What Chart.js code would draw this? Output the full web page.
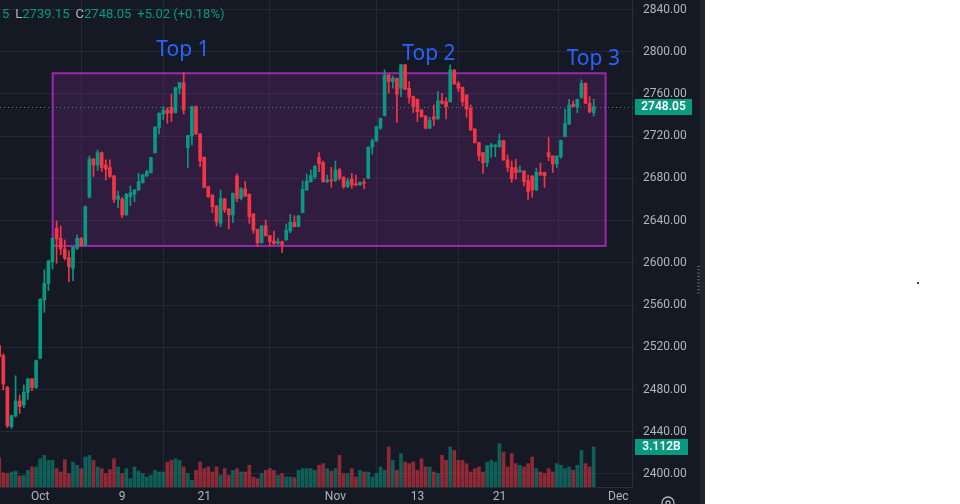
<!DOCTYPE html>
<html>
<head>
<meta charset="utf-8">
<script src="https://cdn.jsdelivr.net/npm/chart.js@4.4.1/dist/chart.umd.min.js"></script>
<style>
  html, body { margin:0; padding:0; background:#fff; }
  #wrap { position:absolute; left:0; top:0; width:705px; height:504px; background:#151924; }
  #dot { position:absolute; left:917px; top:282px; width:2px; height:2px; background:#444; }
</style>
</head>
<body>
<div id="wrap"><canvas id="chart"></canvas></div>
<div id="dot"></div>
<script>
// OHLC per bar (index 0 = leftmost, partly cut off)
const OPEN = [2521.6,2512.1,2482.1,2444.8,2454.9,2469.1,2465.4,2477.3,2490.0,2481.8,
  2509.6,2564.8,2580.6,2601.1,2632.7,2623.2,2613.1,2604.9,2594.8,2613.8,
  2623.2,2616.9,2662.1,2698.4,2692.7,2704.4,2692.7,2690.2,2682.3,2660.2,
  2660.2,2645.4,2662.7,2664.9,2669.0,2676.0,2682.3,2685.5,2704.4,2728.1,
  2741.0,2744.8,2747.4,2742.3,2765.4,2770.7,2709.1,2720.2,2748.0,2722.1,
  2700.0,2672.2,2664.3,2653.9,2637.5,2660.5,2651.0,2645.4,2682.3,2661.1,
  2670.0,2664.9,2646.3,2631.8,2619.1,2635.2,2625.8,2620.7,2618.5,2620.1,
  2621.7,2630.2,2638.4,2634.3,2647.6,2669.0,2676.9,2681.7,2699.7,2694.9,
  2676.9,2678.5,2677.9,2688.0,2681.0,2672.2,2679.5,2674.7,2673.8,2676.3,
  2680.1,2709.5,2715.5,2727.5,2739.5,2778.0,2771.7,2774.8,2765.4,2787.5,
  2765.4,2757.5,2754.9,2744.8,2739.1,2727.5,2738.5,2736.3,2753.4,2752.7,
  2752.7,2782.7,2770.1,2766.3,2759.0,2746.4,2726.8,2713.9,2704.4,2694.9,
  2710.1,2710.1,2710.1,2715.8,2697.5,2690.5,2690.2,2686.1,2687.0,2677.9,
  2682.3,2669.0,2685.8,2685.8,2704.4,2701.2,2693.7,2700.6,2719.6,2731.6,
  2750.2,2747.4,2756.8,2770.1,2751.1,2742.3];
const HIGH = [2523.0,2514.0,2483.0,2455.9,2493.1,2474.8,2484.3,2490.5,2490.5,2508.0,
  2566.0,2593.3,2602.5,2624.0,2639.7,2634.9,2621.7,2611.6,2615.0,2626.4,
  2624.0,2654.0,2701.2,2699.0,2706.9,2705.0,2697.5,2697.5,2683.0,2668.1,
  2662.1,2665.9,2672.8,2669.6,2684.8,2684.0,2688.0,2700.0,2729.0,2742.0,
  2748.0,2747.0,2759.7,2766.5,2771.0,2780.2,2721.0,2748.6,2748.5,2722.5,
  2700.5,2672.5,2664.5,2654.0,2669.0,2661.0,2651.5,2666.0,2684.2,2671.2,
  2676.9,2665.5,2646.8,2632.0,2635.5,2640.6,2626.0,2630.2,2623.2,2620.5,
  2636.8,2646.0,2644.7,2645.0,2677.6,2684.2,2688.0,2692.0,2704.4,2696.5,
  2683.2,2690.5,2696.5,2689.6,2681.7,2680.1,2684.8,2683.2,2676.8,2679.5,
  2710.0,2717.4,2729.5,2737.2,2782.7,2778.5,2777.0,2775.3,2788.0,2788.0,
  2771.7,2758.0,2755.3,2745.2,2739.5,2737.9,2749.6,2762.2,2760.6,2756.5,
  2787.5,2783.0,2771.7,2766.6,2759.3,2749.6,2727.0,2714.2,2704.7,2711.0,
  2713.2,2712.0,2722.1,2716.2,2702.2,2696.5,2698.1,2691.8,2687.4,2683.2,
  2682.6,2689.6,2694.3,2686.0,2718.9,2701.5,2701.5,2716.4,2745.5,2754.9,
  2753.4,2755.2,2773.3,2770.4,2757.5,2754.9];
const LOW = [2509.0,2479.6,2444.0,2443.2,2454.0,2457.4,2462.8,2470.7,2478.9,2481.0,
  2509.0,2553.1,2573.7,2594.2,2599.6,2607.5,2602.7,2582.2,2583.1,2612.8,
  2615.5,2616.0,2661.5,2681.7,2687.4,2686.4,2678.5,2681.0,2657.0,2652.3,
  2642.8,2645.0,2654.2,2658.0,2668.5,2675.5,2681.7,2685.0,2704.0,2722.1,
  2735.4,2732.2,2733.8,2742.0,2760.0,2741.0,2690.2,2711.7,2721.5,2691.1,
  2671.0,2662.0,2647.6,2634.9,2634.3,2647.6,2632.1,2638.1,2658.0,2659.6,
  2662.7,2637.5,2628.0,2615.4,2618.5,2625.3,2616.0,2616.9,2617.6,2609.7,
  2621.3,2628.6,2634.0,2634.0,2647.3,2668.5,2676.5,2679.5,2686.4,2676.5,
  2676.0,2671.6,2676.9,2678.5,2670.6,2671.2,2670.6,2672.8,2673.3,2670.0,
  2679.8,2703.1,2715.0,2726.5,2739.0,2760.6,2765.4,2733.1,2757.5,2764.0,
  2751.1,2742.3,2733.8,2738.0,2727.0,2727.0,2730.0,2736.0,2750.2,2736.3,
  2752.0,2769.0,2762.2,2748.6,2737.9,2725.5,2713.5,2696.8,2684.8,2691.1,
  2700.0,2700.6,2709.5,2697.0,2686.4,2676.3,2679.1,2685.8,2672.8,2660.2,
  2662.1,2668.4,2683.0,2671.6,2696.8,2685.5,2690.2,2699.0,2719.3,2731.0,
  2747.8,2742.3,2755.9,2750.8,2742.0,2739.15];
const CLOSE = [2511.1,2485.2,2445.5,2455.2,2469.1,2463.8,2477.3,2490.0,2481.8,2507.3,
  2565.5,2580.6,2601.8,2623.2,2622.6,2613.1,2604.3,2596.4,2614.7,2623.2,
  2616.3,2653.2,2698.4,2692.7,2704.4,2690.2,2688.9,2681.7,2660.2,2663.4,
  2645.4,2664.9,2666.5,2669.0,2676.9,2683.2,2686.4,2699.7,2728.4,2741.7,
  2744.8,2741.7,2741.7,2766.0,2770.7,2744.8,2720.5,2748.0,2722.1,2696.5,
  2671.6,2662.7,2653.2,2639.0,2661.1,2650.1,2645.4,2665.9,2661.1,2670.0,
  2663.4,2643.8,2631.1,2619.1,2634.9,2625.8,2620.1,2618.5,2620.1,2616.9,
  2631.1,2638.4,2634.3,2644.4,2669.7,2677.6,2682.6,2691.8,2693.7,2676.9,
  2678.5,2677.6,2688.0,2680.1,2672.2,2677.6,2673.8,2673.8,2676.3,2675.4,
  2709.5,2715.8,2729.0,2736.9,2778.0,2771.7,2774.8,2759.7,2787.5,2764.4,
  2756.8,2748.0,2743.2,2738.5,2727.5,2734.7,2736.0,2753.4,2751.1,2748.0,
  2782.7,2769.5,2765.4,2752.7,2745.5,2725.9,2713.9,2701.6,2694.9,2710.7,
  2711.7,2711.7,2715.8,2697.5,2690.5,2679.5,2685.5,2687.4,2676.9,2667.5,
  2669.0,2685.8,2683.2,2682.6,2700.6,2693.7,2701.2,2715.8,2732.2,2749.6,
  2748.0,2754.9,2770.1,2751.1,2743.03,2748.05];
// volume in billions
const VOLUME = [2.28,1.11,1.04,1.17,1.24,0.86,0.91,1.30,1.56,1.56,
  2.20,2.46,2.07,2.07,1.43,1.17,2.13,1.04,1.94,1.69,
  1.43,2.33,2.46,2.07,1.56,1.43,1.04,1.35,2.20,1.56,
  1.04,1.43,0.65,1.56,1.24,1.04,0.78,0.91,1.30,1.17,
  1.17,1.94,2.07,2.20,2.07,1.56,1.04,0.52,1.30,1.94,
  1.43,1.56,1.17,1.56,0.91,1.43,0.91,1.30,1.43,1.17,
  1.17,1.69,0.78,0.65,1.04,1.30,1.43,1.30,0.91,1.04,
  0.78,0.78,0.73,1.30,1.43,1.43,1.43,1.30,1.69,1.82,
  1.43,1.24,1.43,2.46,1.04,1.04,1.43,0.78,1.30,1.17,
  1.17,0.78,1.04,1.56,1.30,3.11,2.07,1.30,2.59,1.94,
  1.82,1.94,1.30,2.20,1.56,1.56,1.17,1.04,2.46,2.07,
  3.11,2.85,2.07,2.07,1.82,1.17,1.43,1.56,1.17,1.94,
  2.07,1.94,3.37,2.72,1.56,2.59,1.82,1.69,1.56,1.82,
  2.33,1.43,1.17,1.04,1.43,1.17,1.82,1.69,1.43,1.56,
  1.30,1.69,2.85,1.82,1.56,3.112];

const PRICE_TICKS = [2400,2440,2480,2520,2560,2600,2640,2680,2720,2760,2800,2840];
const X_TICKS  = [10, 30, 50, 82, 102, 122, 151];
const X_LABELS = ['Oct','9','21','Nov','13','21','Dec'];

const LAST_CLOSE = 2748.05;
const LAST_VOL_LABEL = '3.112B';
const HEADER = [['5','up'],['L','txt'],['2739.15','up'],['C','txt'],['2748.05','up'],['+5.02 (+0.18%)','up']];

// zone box and labels (data coords)
const ZONE = { x0: 13.05, x1: 147.9, top: 2779.6, bottom: 2616.0 };
const TOPS = [ {text:'Top 1', i:44.8, p:2801.6}, {text:'Top 2', i:104.8, p:2797.8}, {text:'Top 3', i:144.9, p:2793.1} ];

const UP = '#089981', DOWN = '#f23645';
const UP_V = 'rgba(8,153,129,0.55)', DOWN_V = 'rgba(242,54,69,0.55)';
const BG = '#151924', GRID = 'rgba(42,46,57,0.75)', TXT = '#b2b5be';

Chart.defaults.font.family = 'Roboto';

const idx = OPEN.map((_, i) => i);
const up = idx.map(i => CLOSE[i] >= OPEN[i]);

// no edge padding for axis labels: the plot fills the panel
const noPad = s => { s.paddingTop = 0; s.paddingBottom = 0; s.paddingLeft = 0; s.paddingRight = 0; };

const decor = {
  id: 'decor',
  beforeDraw(c) {
    const g = c.ctx;
    g.save(); g.fillStyle = BG; g.fillRect(0, 0, c.width, c.height); g.restore();
  },
  beforeDatasetsDraw(c) {
    const g = c.ctx, x = c.scales.x, y = c.scales.y;
    const l = x.getPixelForValue(ZONE.x0), r = x.getPixelForValue(ZONE.x1);
    const t = y.getPixelForValue(ZONE.top), b = y.getPixelForValue(ZONE.bottom);
    g.save();
    g.fillStyle = 'rgba(156,39,176,0.2)';
    g.fillRect(l, t, r - l, b - t);
    g.strokeStyle = '#9c27b0'; g.lineWidth = 2;
    g.strokeRect(l, t, r - l, b - t);
    g.restore();
  },
  afterDatasetsDraw(c) {
    const g = c.ctx, x = c.scales.x, y = c.scales.y, a = c.chartArea;
    g.save();
    // last price dotted line
    const ly = Math.round(y.getPixelForValue(LAST_CLOSE)) + 0.5;
    g.strokeStyle = UP; g.lineWidth = 1; g.setLineDash([1, 3]);
    g.beginPath(); g.moveTo(a.left, ly); g.lineTo(a.right + 3, ly); g.stroke();
    g.setLineDash([]);
    // Top labels
    g.fillStyle = '#2962ff'; g.font = '21px "Noto Sans"';
    g.textAlign = 'center'; g.textBaseline = 'middle';
    TOPS.forEach(o => g.fillText(o.text, x.getPixelForValue(o.i), y.getPixelForValue(o.p)));
    g.restore();
  },
  afterDraw(c) {
    const g = c.ctx, y = c.scales.y, yv = c.scales.yv, a = c.chartArea;
    g.save();
    // price label on axis
    const ly = y.getPixelForValue(LAST_CLOSE);
    g.fillStyle = UP; g.fillRect(a.right + 3, Math.round(ly) - 8, 57, 16);
    g.fillStyle = '#fff'; g.font = '600 12px Roboto'; g.textAlign = 'center'; g.textBaseline = 'middle';
    g.fillText(LAST_CLOSE.toFixed(2), a.right + 31.5, Math.round(ly));
    // volume label
    const vy = yv.getPixelForValue(VOLUME[VOLUME.length - 1]);
    g.fillStyle = UP; g.fillRect(a.right + 3, Math.round(vy) - 8, 53, 16);
    g.fillStyle = '#fff';
    g.fillText(LAST_VOL_LABEL, a.right + 29.5, Math.round(vy));
    // header
    g.font = '13px Roboto'; g.textAlign = 'left';
    let hx = 2;
    HEADER.forEach(([s, k]) => {
      g.fillStyle = k === 'up' ? UP : TXT;
      g.fillText(s, hx, 15);
      hx += g.measureText(s).width + (k === 'txt' ? 0 : 6);
    });
    // drag handle on price axis
    g.fillStyle = '#5d606b';
    for (let i = 0; i < 9; i++) g.fillRect(697, 266 + i * 3.3, 3, 1);
    // settings icon
    g.strokeStyle = TXT; g.lineWidth = 1.3;
    g.beginPath(); g.arc(668, 503, 6, 0, Math.PI * 2); g.stroke();
    g.beginPath(); g.arc(668, 503, 2, 0, Math.PI * 2); g.stroke();
    // panel edge
    g.fillStyle = '#20242f'; g.fillRect(700, 0, 5, c.height);
    g.restore();
  }
};

new Chart(document.getElementById('chart'), {
  type: 'bar',
  data: {
    datasets: [
      { data: idx.map(i => ({ x: i, y: [OPEN[i], CLOSE[i]] })), backgroundColor: idx.map(i => up[i] ? UP : DOWN),
        barThickness: 3, minBarLength: 1, grouped: false, order: 1, yAxisID: 'y' },
      { data: idx.map(i => ({ x: i, y: [LOW[i], HIGH[i]] })), backgroundColor: idx.map(i => up[i] ? UP : DOWN),
        barThickness: 1, grouped: false, order: 2, yAxisID: 'y' },
      { data: idx.map(i => ({ x: i, y: VOLUME[i] })), backgroundColor: idx.map(i => up[i] ? UP_V : DOWN_V),
        barThickness: 3, grouped: false, order: 3, yAxisID: 'yv' }
    ]
  },
  options: {
    responsive: true, maintainAspectRatio: false, animation: false, devicePixelRatio: 1,
    layout: { padding: 0 },
    plugins: { legend: { display: false }, tooltip: { enabled: false } },
    scales: {
      x: {
        type: 'linear', min: 0.195, max: 154.34, offset: false,
        grid: { color: GRID, drawTicks: false },
        border: { color: '#2a2e39' },
        afterBuildTicks: s => { s.ticks = X_TICKS.map(v => ({ value: v })); },
        afterFit: s => { s.height = 17; noPad(s); },
        ticks: { autoSkip: false, maxRotation: 0, padding: 3, color: TXT, font: { size: 12 },
          callback: v => X_LABELS[X_TICKS.indexOf(v)] ?? '' }
      },
      y: {
        type: 'linear', position: 'right', min: 2387.65, max: 2849.0,
        grid: { color: GRID, tickLength: 3 },
        border: { color: '#2a2e39' },
        afterBuildTicks: s => { s.ticks = PRICE_TICKS.map(v => ({ value: v })); },
        afterFit: s => { s.width = 73; noPad(s); },
        ticks: { autoSkip: false, padding: 8, color: TXT, font: { size: 12 }, callback: v => v.toFixed(2) }
      },
      yv: { type: 'linear', display: false, min: 0, max: 37.89 }
    }
  },
  plugins: [decor]
});
</script>
</body>
</html>
